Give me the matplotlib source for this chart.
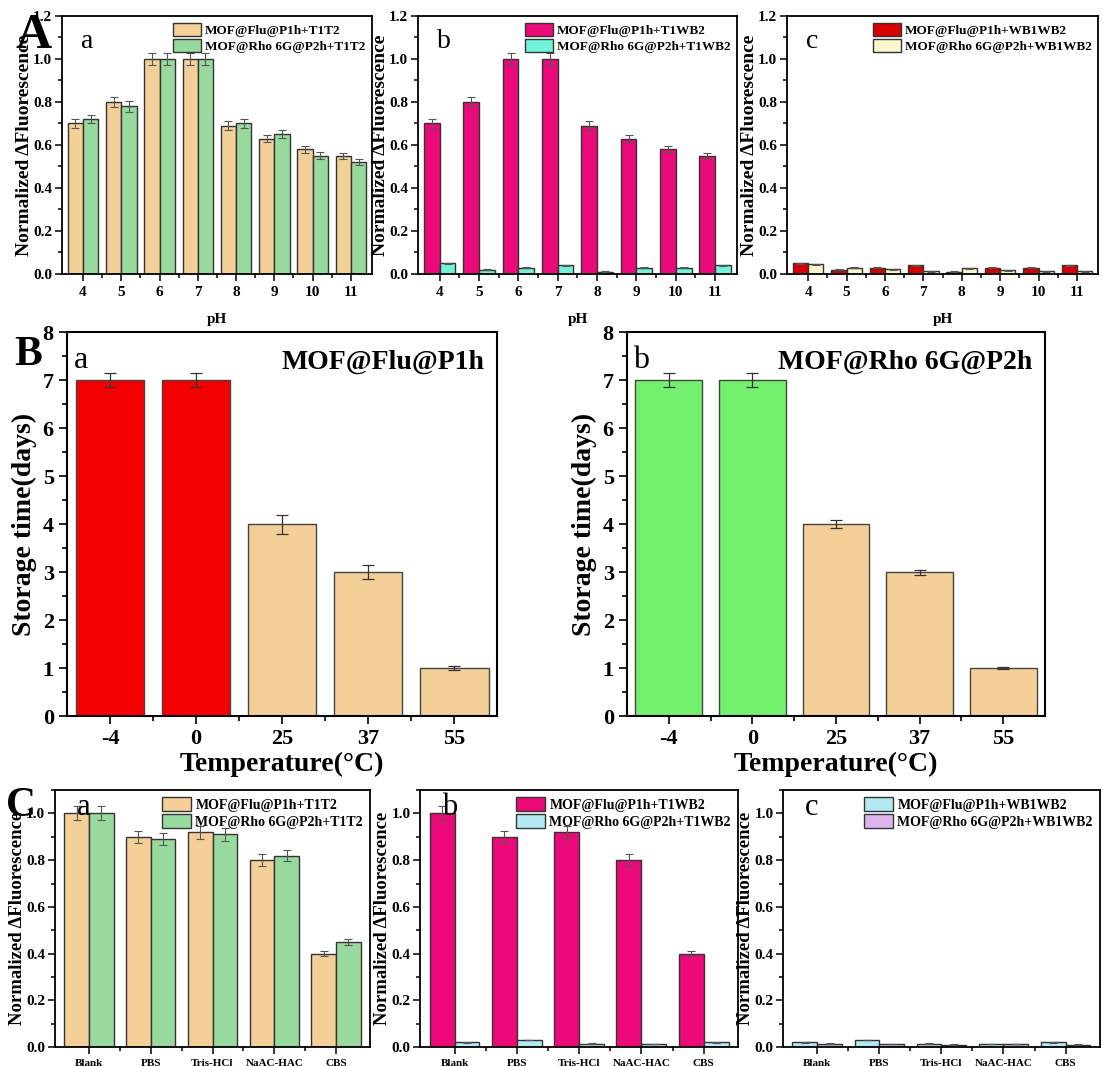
import numpy as np
import matplotlib
matplotlib.use("Agg")
from matplotlib import pyplot as plt
from matplotlib.ticker import MultipleLocator, FormatStrFormatter

plt.rcParams["font.family"] = ["Liberation Serif", "DejaVu Serif"]
plt.rcParams["font.weight"] = "bold"

# datos fila A (pH)
ph = ["4", "5", "6", "7", "8", "9", "10", "11"]
flu_t1t2 = [0.70, 0.80, 1.00, 1.00, 0.69, 0.63, 0.58, 0.55]
rho_t1t2 = [0.72, 0.78, 1.00, 1.00, 0.70, 0.65, 0.55, 0.52]
flu_t1t2_err = [0.02, 0.025, 0.03, 0.03, 0.02, 0.018, 0.017, 0.015]
rho_t1t2_err = [0.02, 0.025, 0.03, 0.03, 0.02, 0.018, 0.017, 0.015]
flu_t1wb2 = [0.70, 0.80, 1.00, 1.00, 0.69, 0.63, 0.58, 0.55]
rho_t1wb2 = [0.05, 0.02, 0.03, 0.04, 0.01, 0.03, 0.03, 0.04]
flu_t1wb2_err = [0.02, 0.025, 0.03, 0.03, 0.02, 0.018, 0.017, 0.015]
rho_t1wb2_err = [0.002, 0.002, 0.002, 0.002, 0.002, 0.002, 0.002, 0.002]
flu_wb1wb2 = [0.05, 0.02, 0.03, 0.04, 0.01, 0.03, 0.03, 0.04]
rho_wb1wb2 = [0.045, 0.03, 0.022, 0.012, 0.026, 0.018, 0.013, 0.013]
wb_err = [0.002, 0.002, 0.002, 0.002, 0.002, 0.002, 0.002, 0.002]

# datos fila B (temperatura)
temperatura = ["-4", "0", "25", "37", "55"]
dias_flu = [7, 7, 4, 3, 1]
dias_flu_err = [0.15, 0.15, 0.2, 0.15, 0.05]
dias_rho = [7, 7, 4, 3, 1]
dias_rho_err = [0.15, 0.15, 0.08, 0.05, 0.02]

# datos fila C (tampones)
tampones = ["Blank", "PBS", "Tris-HCl", "NaAC-HAC", "CBS"]
flu_c_t1t2 = [1.00, 0.90, 0.92, 0.80, 0.40]
rho_c_t1t2 = [1.00, 0.89, 0.91, 0.82, 0.45]
flu_c_t1t2_err = [0.03, 0.025, 0.028, 0.025, 0.012]
rho_c_t1t2_err = [0.03, 0.025, 0.028, 0.025, 0.012]
flu_c_t1wb2 = [1.00, 0.90, 0.92, 0.80, 0.40]
rho_c_t1wb2 = [0.02, 0.03, 0.015, 0.013, 0.02]
flu_c_t1wb2_err = [0.03, 0.025, 0.028, 0.025, 0.012]
flu_c_wb1wb2 = [0.02, 0.03, 0.015, 0.013, 0.02]
rho_c_wb1wb2 = [0.015, 0.012, 0.01, 0.012, 0.01]
c_err = [0.001, 0.001, 0.001, 0.001, 0.001]

naranja = "#F5CF98"
verde = "#98D99D"
magenta = "#EC0A7A"
aqua = "#72F3DA"
rojo_oscuro = "#D80000"
crema = "#FBF6CC"
celeste = "#B3E9F2"
lila = "#DDB4EE"
rojo = "#F50000"
verde_claro = "#72F06E"


def barras_dobles(ax, etiquetas, y1, e1, y2, e2, c1, c2, l1, l2, ymax, tick_fs, leg_fs, ylab_fs):
    x = np.arange(len(etiquetas))
    kw = dict(width=0.4, edgecolor="#333333", linewidth=1.0,
              error_kw=dict(ecolor="#555555", elinewidth=0.8, capsize=3, capthick=0.8))
    ax.bar(x - 0.2, y1, yerr=e1, color=c1, label=l1, **kw)
    ax.bar(x + 0.2, y2, yerr=e2, color=c2, label=l2, **kw)
    ax.set_xticks(x)
    ax.set_xticklabels(etiquetas, fontsize=tick_fs, fontweight="bold")
    ax.set_xticks(x[:-1] + 0.5, minor=True)
    ax.set_xlim(-0.55, len(etiquetas) - 0.45)
    ax.set_ylim(0, ymax)
    ax.yaxis.set_major_locator(MultipleLocator(0.2))
    ax.yaxis.set_minor_locator(MultipleLocator(0.1))
    ax.yaxis.set_major_formatter(FormatStrFormatter("%.1f"))
    for t in ax.get_yticklabels():
        t.set_fontweight("bold")
        t.set_fontsize(11)
    ax.set_ylabel("Normalized ΔFluorescence", fontsize=ylab_fs, fontweight="bold", labelpad=0)
    ax.legend(loc="upper right", frameon=False, prop=dict(size=leg_fs, weight="bold"),
              handlelength=2.1, handleheight=1.2, borderaxespad=0.1, handletextpad=0.3,
              labelspacing=0.15)
    for s in ax.spines.values():
        s.set_linewidth(1.3)
    ax.tick_params(which="both", direction="out", width=1.1)
    ax.tick_params(which="major", length=5)
    ax.tick_params(which="minor", length=3)
    ax.tick_params(axis="y", pad=2)


fig = plt.figure(figsize=(11.03, 10.66), dpi=100)

# fila A
ax1 = fig.add_axes([0.0562, 0.743, 0.281, 0.242])
barras_dobles(ax1, ph, flu_t1t2, flu_t1t2_err, rho_t1t2, rho_t1t2_err, naranja, verde,
              "MOF@Flu@P1h+T1T2", "MOF@Rho 6G@P2h+T1T2", 1.2, 11, 9.5, 14)
ax2 = fig.add_axes([0.379, 0.743, 0.289, 0.242])
barras_dobles(ax2, ph, flu_t1wb2, flu_t1wb2_err, rho_t1wb2, rho_t1wb2_err, magenta, aqua,
              "MOF@Flu@P1h+T1WB2", "MOF@Rho 6G@P2h+T1WB2", 1.2, 11, 9.5, 14)
ax3 = fig.add_axes([0.7135, 0.743, 0.282, 0.242])
barras_dobles(ax3, ph, flu_wb1wb2, wb_err, rho_wb1wb2, wb_err, rojo_oscuro, crema,
              "MOF@Flu@P1h+WB1WB2", "MOF@Rho 6G@P2h+WB1WB2", 1.2, 11, 9.5, 14)
for ax, letra in [(ax1, "a"), (ax2, "b"), (ax3, "c")]:
    ax.set_xlabel("pH", fontsize=11, fontweight="bold", labelpad=10)
    ax.text(0.06, 0.95, letra, transform=ax.transAxes, fontsize=20, fontweight="normal",
            va="top", ha="left")

# fila B
for pos, dias, err, col, letra, nombre in [
        ([0.0607, 0.3283, 0.390, 0.360], dias_flu, dias_flu_err, rojo, "a", "MOF@Flu@P1h"),
        ([0.5684, 0.3283, 0.379, 0.360], dias_rho, dias_rho_err, verde_claro, "b", "MOF@Rho 6G@P2h")]:
    ax = fig.add_axes(pos)
    x = np.arange(len(temperatura))
    colores = [col, col, naranja, naranja, naranja]
    ax.bar(x, dias, yerr=err, width=0.8, color=colores, edgecolor="#444444", linewidth=1.0,
           error_kw=dict(ecolor="#333333", elinewidth=0.9, capsize=4, capthick=0.9))
    ax.set_xticks(x)
    ax.set_xticklabels(temperatura, fontsize=16, fontweight="bold")
    ax.set_xticks(x[:-1] + 0.5, minor=True)
    ax.set_xlim(-0.5, len(temperatura) - 0.5)
    ax.set_ylim(0, 8)
    ax.yaxis.set_major_locator(MultipleLocator(1))
    ax.yaxis.set_minor_locator(MultipleLocator(0.5))
    for t in ax.get_yticklabels():
        t.set_fontweight("bold")
        t.set_fontsize(16)
    ax.set_ylabel("Storage time(days)", fontsize=20, fontweight="bold", labelpad=4)
    ax.set_xlabel("Temperature(°C)", fontsize=20, fontweight="bold", labelpad=2)
    for s in ax.spines.values():
        s.set_linewidth(1.5)
    ax.tick_params(which="both", direction="out", width=1.2)
    ax.tick_params(which="major", length=6)
    ax.tick_params(which="minor", length=3.5)
    ax.text(0.015, 0.965, letra, transform=ax.transAxes, fontsize=23, fontweight="normal",
            va="top", ha="left")
    ax.text(0.97, 0.955, nombre, transform=ax.transAxes, fontsize=20, fontweight="bold",
            va="top", ha="right")

# fila C
ax7 = fig.add_axes([0.0499, 0.0178, 0.2856, 0.241])
barras_dobles(ax7, tampones, flu_c_t1t2, flu_c_t1t2_err, rho_c_t1t2, rho_c_t1t2_err, naranja, verde,
              "MOF@Flu@P1h+T1T2", "MOF@Rho 6G@P2h+T1T2", 1.1, 8, 10, 13.5)
ax8 = fig.add_axes([0.381, 0.0178, 0.288, 0.241])
barras_dobles(ax8, tampones, flu_c_t1wb2, flu_c_t1wb2_err, rho_c_t1wb2, c_err, magenta, celeste,
              "MOF@Flu@P1h+T1WB2", "MOF@Rho 6G@P2h+T1WB2", 1.1, 8, 10, 13.5)
ax9 = fig.add_axes([0.710, 0.0178, 0.287, 0.241])
barras_dobles(ax9, tampones, flu_c_wb1wb2, c_err, rho_c_wb1wb2, c_err, celeste, lila,
              "MOF@Flu@P1h+WB1WB2", "MOF@Rho 6G@P2h+WB1WB2", 1.1, 8, 10, 13.5)
for ax, letra in [(ax7, "a"), (ax8, "b"), (ax9, "c")]:
    ax.text(0.07, 0.99, letra, transform=ax.transAxes, fontsize=22, fontweight="normal",
            va="top", ha="left")

# letras grandes
fig.text(0.014, 0.988, "A", fontsize=36, fontweight="bold", va="top")
fig.text(0.013, 0.685, "B", fontsize=30, fontweight="bold", va="top")
fig.text(0.005, 0.262, "C", fontsize=30, fontweight="bold", va="top")

fig.savefig("out.png", dpi=100)
plt.close(fig)
